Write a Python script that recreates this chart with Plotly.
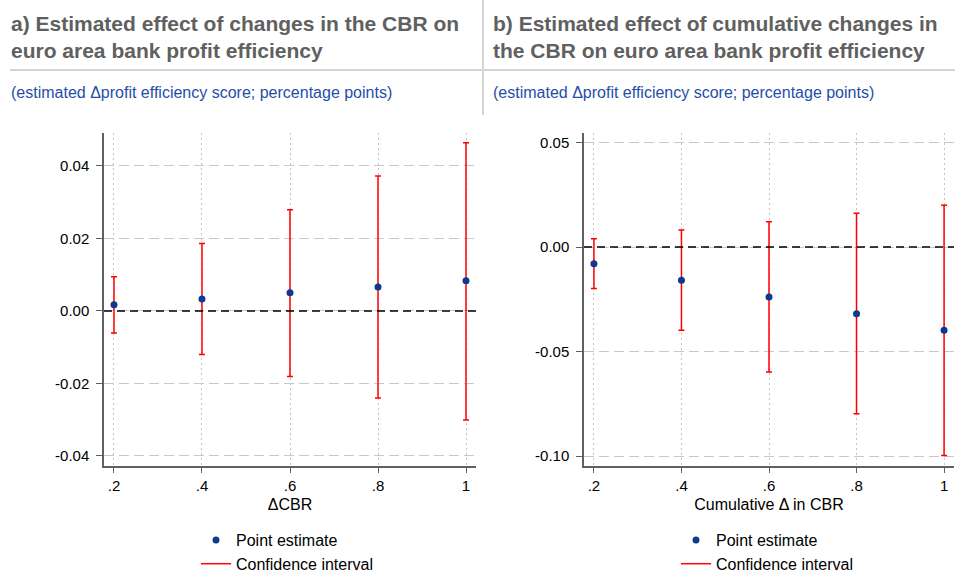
import plotly.graph_objects as go

# shared x values (change in CBR)
cbr = [0.2, 0.4, 0.6, 0.8, 1.0]
x_ticktext = ['.2', '.4', '.6', '.8', '1']

# panel a) changes in the CBR
a_est = [0.0017, 0.0033, 0.0050, 0.0066, 0.0083]
a_hi = [0.0094, 0.0186, 0.0279, 0.0372, 0.0464]
a_lo = [-0.0061, -0.0120, -0.0181, -0.0240, -0.0301]
a_yticks = [-0.04, -0.02, 0.0, 0.02, 0.04]
a_yticktext = ['-0.04', '-0.02', '0.00', '0.02', '0.04']

# panel b) cumulative changes in the CBR
b_est = [-0.0080, -0.0159, -0.0239, -0.0319, -0.0398]
b_hi = [0.0040, 0.0081, 0.0121, 0.0161, 0.0199]
b_lo = [-0.0199, -0.0398, -0.0598, -0.0797, -0.0997]
b_yticks = [-0.10, -0.05, 0.0, 0.05]
b_yticktext = ['-0.10', '-0.05', '0.00', '0.05']

title_a = "<b>a) Estimated effect of changes in the CBR on</b><br><b>euro area bank profit efficiency</b>"
title_b = "<b>b) Estimated effect of cumulative changes in</b><br><b>the CBR on euro area bank profit efficiency</b>"
subtitle = "(estimated \u0394profit efficiency score; percentage points)"

RED = '#ff0000'
NAVY = '#0d3a8f'
GREY_T = '#606060'
BLUE_T = '#1f4ea8'
FONT = 'Liberation Sans, Arial, sans-serif'

W, H = 955, 570


def fx(px):
    return px / W


def fy(py):
    return 1 - py / H


fig = go.Figure()


def add_panel(est, hi, lo, xa, ya, leg):
    up = [h - e for h, e in zip(hi, est)]
    dn = [e - l for e, l in zip(est, lo)]
    fig.add_trace(go.Scatter(
        x=cbr, y=est, mode='markers', xaxis=xa, yaxis=ya,
        marker=dict(size=1, opacity=0),
        error_y=dict(type='data', symmetric=False, array=up, arrayminus=dn,
                     color=RED, thickness=1.5, width=3),
        showlegend=False, hoverinfo='skip'))
    fig.add_trace(go.Scatter(
        x=cbr, y=est, mode='markers', xaxis=xa, yaxis=ya,
        marker=dict(size=7, color=NAVY),
        name='Point estimate', legend=leg))
    fig.add_trace(go.Scatter(
        x=[None], y=[None], mode='lines', xaxis=xa, yaxis=ya,
        line=dict(color=RED, width=1.5),
        name='Confidence interval', legend=leg))


add_panel(a_est, a_hi, a_lo, 'x', 'y', 'legend')
add_panel(b_est, b_hi, b_lo, 'x2', 'y2', 'legend2')

ydom = [fy(466), fy(133)]

xcommon = dict(tickvals=cbr, ticktext=x_ticktext, range=[0.1773, 1.0227],
               showgrid=True, gridcolor='#c4c4c4', griddash='2px,3px', gridwidth=1,
               showline=True, linecolor='#606060', linewidth=1.5,
               ticks='outside', ticklen=5, tickcolor='#606060',
               tickfont=dict(size=15, color='black'), zeroline=False,
               title_font=dict(size=16, color='black'), title_standoff=6)
ycommon = dict(showgrid=True, gridcolor='#c8c8c8', griddash='10px,5px', gridwidth=1.2,
               showline=True, linecolor='#606060', linewidth=1.5,
               ticks='outside', ticklen=6, tickcolor='#606060', ticklabelstandoff=4,
               tickfont=dict(size=15, color='black'), zeroline=False, domain=ydom)

legfont = dict(size=16, color='black')
fig.update_layout(
    width=W, height=H,
    margin=dict(l=0, r=0, t=0, b=0, autoexpand=False),
    paper_bgcolor='white', plot_bgcolor='white',
    font=dict(family=FONT),
    xaxis=dict(xcommon, domain=[fx(104), fx(476)], anchor='y', title_text='\u0394CBR'),
    yaxis=dict(ycommon, range=[-0.0428, 0.0491], tickvals=a_yticks,
               ticktext=a_yticktext, anchor='x'),
    xaxis2=dict(xcommon, domain=[fx(584), fx(954)], anchor='y2',
                title_text='Cumulative \u0394 in CBR'),
    yaxis2=dict(ycommon, range=[-0.1047, 0.0545], tickvals=b_yticks,
                ticktext=b_yticktext, anchor='x2'),
    legend=dict(x=fx(196), xanchor='left', y=fy(523), yanchor='top',
                font=legfont, bgcolor='rgba(0,0,0,0)'),
    legend2=dict(x=fx(676), xanchor='left', y=fy(523), yanchor='top',
                 font=legfont, bgcolor='rgba(0,0,0,0)'),
    showlegend=True,
)

# zero reference lines
for xr, yr in [('x domain', 'y'), ('x2 domain', 'y2')]:
    fig.add_shape(type='line', xref=xr, yref=yr, x0=0, x1=1, y0=0, y1=0,
                  line=dict(color='black', width=1.5, dash='8px,5px'))

# header separators
fig.add_shape(type='line', xref='paper', yref='paper', x0=fx(10), x1=1,
              y0=fy(70), y1=fy(70), line=dict(color='#d4d4d4', width=2))
fig.add_shape(type='line', xref='paper', yref='paper', x0=fx(483), x1=fx(483),
              y0=fy(115), y1=1, line=dict(color='#d4d4d4', width=2))

# titles and subtitles
for x0, t in [(10, title_a), (492, title_b)]:
    fig.add_annotation(text=t, xref='paper', yref='paper', x=fx(x0), y=fy(11),
                       xanchor='left', yanchor='top', showarrow=False, align='left',
                       font=dict(size=21, color=GREY_T, family=FONT), borderpad=0)
    fig.add_annotation(text=subtitle, xref='paper', yref='paper',
                       x=fx(x0), y=fy(92), xanchor='left', yanchor='middle',
                       showarrow=False, borderpad=0,
                       font=dict(size=16, color=BLUE_T, family=FONT))

fig.write_html("out.html", config={'displayModeBar': False},
               post_script="document.body.style.margin='0';document.body.style.overflow='hidden';")
